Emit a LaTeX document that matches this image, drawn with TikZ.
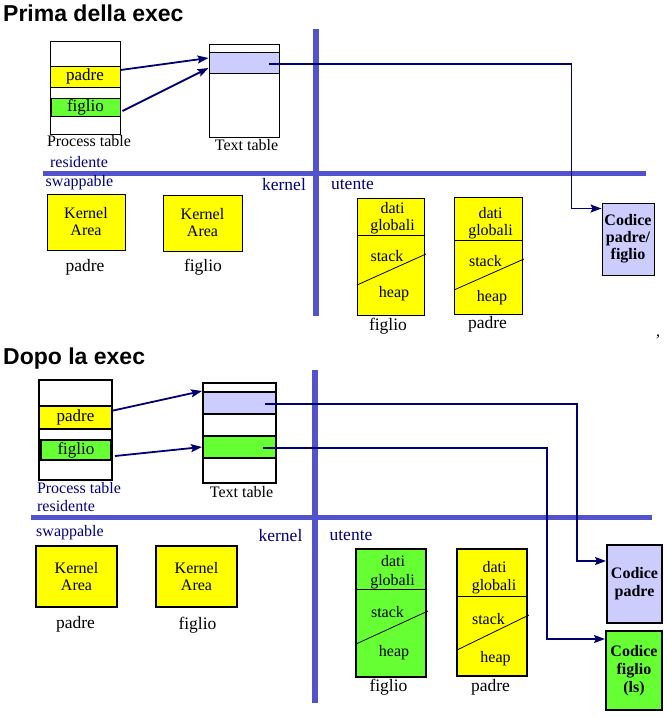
\documentclass[tikz,border=0pt]{standalone}
\usepackage{fontspec}
\setmainfont{Liberation Serif}
\newfontfamily\titlefont{Liberation Sans}
\usepackage{tikz}
\usetikzlibrary{arrows.meta, calc}
\definecolor{ProcYellow}{HTML}{FFFF00}
\definecolor{ProcGreen}{HTML}{66FF33}
\definecolor{TextLavender}{HTML}{CCCCFF}
\definecolor{LinkNavy}{HTML}{000070}
\definecolor{BarBlue}{HTML}{5252CC}
\definecolor{LabelNavy}{HTML}{000080}
\tikzset{
    % Box styles
    tablebox/.style={
        rectangle,
        draw=black,
        line width=1pt,
        inner sep=0pt,
        font=\fontsize{17}{19}\selectfont
    },
    kernelbox/.style={
        rectangle,
        draw=black,
        fill=ProcYellow,
        line width=1pt,
        inner sep=0pt,
        align=center,
        font=\fontsize{16}{17}\selectfont
    },
    membox/.style={
        rectangle,
        draw=black,
        line width=1pt,
        inner sep=0pt
    },
    codebox/.style={
        rectangle,
        draw=black,
        line width=1pt,
        inner sep=0pt,
        align=center,
        font=\bfseries\fontsize{16}{17}\selectfont
    },
    heavyframe/.style={
        line width=2pt
    },
    % Text styles
    smalltext/.style={
        inner sep=0pt,
        anchor=base,
        font=\fontsize{16}{18}\selectfont
    },
    bigtext/.style={
        inner sep=0pt,
        anchor=base,
        font=\fontsize{17.5}{19}\selectfont
    },
    navytext/.style={
        text=LabelNavy
    },
    titletext/.style={
        inner sep=0pt,
        anchor=base west,
        font=\titlefont\bfseries\fontsize{23}{26}\selectfont
    },
    % Line styles
    divider/.style={
        line width=0.8pt,
        black
    },
    link/.style={
        -{Stealth[length=11pt, width=8pt, inset=2pt]},
        line width=1.8pt,
        LinkNavy
    }
}

\begin{document}
\begin{tikzpicture}[x=1pt, y=-1pt]
    \useasboundingbox (0,0) rectangle (667,716);

    % ---------------- Prima della exec ----------------
    \node[titletext] (title1) at (3,21) {Prima della exec};

    % Kernel / user and resident / swappable bars
    \fill[BarBlue] (313,29) rectangle (319,316);
    \fill[BarBlue] (43,171) rectangle (646,176);

    % Process table
    \node[tablebox, minimum width=70pt, minimum height=93pt] (ptab1) at (85,87.5) {};
    \node[tablebox, fill=ProcYellow, minimum width=70pt, minimum height=21pt] (pA1) at (85,76.5) {padre};
    \node[tablebox, fill=ProcGreen, minimum width=69pt, minimum height=18pt] (pB1) at (85.5,107) {figlio};
    \node[smalltext] (ptlbl1) at (89,146.5) {Process table};
    \node[smalltext, navytext] (res1) at (79,167.5) {residente};

    % Text table
    \node[tablebox, minimum width=70pt, minimum height=93pt] (ttab1) at (244,90.5) {};
    \node[tablebox, fill=TextLavender, minimum width=70pt, minimum height=21pt] (tA1) at (244,62.5) {};
    \node[smalltext] (ttlbl1) at (246.5,150.5) {Text table};

    % Zone labels
    \node[smalltext, navytext] (swap1) at (79.5,186) {swappable};
    \node[bigtext, navytext] (kern1) at (284,190.5) {kernel};
    \node[bigtext, navytext] (ute1) at (352.5,189) {utente};

    % Kernel areas
    \node[kernelbox, minimum width=78pt, minimum height=56pt] (ka1p) at (86,222) {Kernel\\Area};
    \node[kernelbox, minimum width=79pt, minimum height=56pt] (ka1f) at (202.5,223) {Kernel\\Area};
    \node[bigtext] (ka1plbl) at (85,271) {padre};
    \node[bigtext] (ka1flbl) at (203,271) {figlio};

    % User areas
    \node[membox, fill=ProcYellow, minimum width=67pt, minimum height=117pt] (mem1f) at (390.5,256.5) {};
    \draw[divider] (357,235) -- (425,235);
    \draw[divider] (357,285) -- (426,254);
    \node[smalltext] (m1fd) at (392.5,213.3) {dati};
    \node[smalltext] (m1fg) at (392.5,230) {globali};
    \node[smalltext] (m1fs) at (387,261.7) {stack};
    \node[smalltext] (m1fh) at (394,297.7) {heap};
    \node[bigtext] (m1flbl) at (388,330) {figlio};

    \node[membox, fill=ProcYellow, minimum width=68pt, minimum height=117pt] (mem1p) at (488,255.5) {};
    \draw[divider] (454,240) -- (523,240);
    \draw[divider] (454,290) -- (524,259);
    \node[smalltext] (m1pd) at (490.5,218.3) {dati};
    \node[smalltext] (m1pg) at (490.5,235.7) {globali};
    \node[smalltext] (m1ps) at (485.5,266.7) {stack};
    \node[smalltext] (m1ph) at (492,301.7) {heap};
    \node[bigtext] (m1plbl) at (487.5,328) {padre};

    % Shared code
    \node[codebox, fill=TextLavender, minimum width=52pt, minimum height=72pt] (cod1) at (628,239) {Codice\\padre/\\figlio};

    % Pointers
    \draw[link] ([yshift=6.5pt]pA1.east) -- ([yshift=4.5pt]tA1.west);
    \draw[link] ([xshift=2pt, yshift=-4pt]pB1.east) -- ([yshift=-5.5pt]tA1.west);
    \coordinate (s1) at (269,64);
    \coordinate (e1) at ($(cod1.north west)+(0,6)$);
    \draw[link] (s1) -| ([xshift=-30pt]e1) -- (e1);

    \node[smalltext] (comma) at (658,336) {,};

    % ---------------- Dopo la exec ----------------
    \node[titletext] (title2) at (3,364) {Dopo la exec};

    % Kernel / user and resident / swappable bars
    \fill[BarBlue] (312,370) rectangle (318,703);
    \fill[BarBlue] (31,514.5) rectangle (652,519.5);

    % Process table
    \node[tablebox, heavyframe, minimum width=73pt, minimum height=100pt] (ptab2) at (75.5,430) {};
    \node[tablebox, heavyframe, fill=ProcYellow, minimum width=73pt, minimum height=23pt] (pA2) at (75.5,417.5) {padre};
    \node[tablebox, heavyframe, fill=ProcGreen, minimum width=70pt, minimum height=20pt] (pB2) at (76,450) {figlio};
    \node[smalltext, navytext] (ptlbl2) at (79,493.3) {Process table};
    \node[smalltext, navytext] (res2) at (66,511.7) {residente};

    % Text table
    \node[tablebox, heavyframe, minimum width=73pt, minimum height=100pt] (ttab2) at (239.5,433) {};
    \node[tablebox, heavyframe, fill=TextLavender, minimum width=73pt, minimum height=22pt] (tA2) at (239.5,403) {};
    \node[tablebox, heavyframe, fill=ProcGreen, minimum width=73pt, minimum height=22pt] (tB2) at (239.5,447) {};
    \node[smalltext] (ttlbl2) at (241.5,497.3) {Text table};

    % Zone labels
    \node[smalltext, navytext] (swap2) at (70,536.7) {swappable};
    \node[bigtext, navytext] (kern2) at (280.5,541.7) {kernel};
    \node[bigtext, navytext] (ute2) at (351,540) {utente};

    % Kernel areas
    \node[kernelbox, heavyframe, minimum width=81pt, minimum height=61pt] (ka2p) at (76.5,576.5) {Kernel\\Area};
    \node[kernelbox, heavyframe, minimum width=81pt, minimum height=61pt] (ka2f) at (196.5,576.5) {Kernel\\Area};
    \node[bigtext] (ka2plbl) at (75.5,628.3) {padre};
    \node[bigtext] (ka2flbl) at (197.5,629.3) {figlio};

    % User areas
    \node[membox, heavyframe, fill=ProcGreen, minimum width=70pt, minimum height=128pt] (mem2f) at (391,613) {};
    \draw[divider] (356,589) -- (426,589);
    \draw[divider] (356,644) -- (428,611);
    \node[smalltext] (m2fd) at (393,566.7) {dati};
    \node[smalltext] (m2fg) at (392.5,585) {globali};
    \node[smalltext] (m2fs) at (387.5,617.7) {stack};
    \node[smalltext] (m2fh) at (394,656) {heap};
    \node[bigtext] (m2flbl) at (388.5,691.7) {figlio};

    \node[membox, heavyframe, fill=ProcYellow, minimum width=70pt, minimum height=127pt] (mem2p) at (492,612.5) {};
    \draw[divider] (457,596) -- (527,596);
    \draw[divider] (457,650) -- (529,615);
    \node[smalltext] (m2pd) at (494.5,572.3) {dati};
    \node[smalltext] (m2pg) at (494,590.7) {globali};
    \node[smalltext] (m2ps) at (488.5,624) {stack};
    \node[smalltext] (m2ph) at (495.5,662.3) {heap};
    \node[bigtext] (m2plbl) at (490.5,691) {padre};

    % Separate code
    \node[codebox, heavyframe, fill=TextLavender, minimum width=55pt, minimum height=78pt, font=\bfseries\fontsize{16}{18}\selectfont] (cod2p) at (634.5,584) {Codice\\padre};
    \node[codebox, heavyframe, fill=ProcGreen, minimum width=56pt, minimum height=79pt, font=\bfseries\fontsize{16}{18}\selectfont] (cod2f) at (634,670.5) {Codice\\figlio\\(ls)};

    % Pointers
    \draw[link] ([xshift=-2pt, yshift=6.5pt]pA2.east) -- ([yshift=12pt]tA2.west);
    \draw[link] ([xshift=3pt, yshift=-6pt]pB2.east) -- (tB2.west);
    \coordinate (s2) at (265,404);
    \coordinate (e2) at ($(cod2p.north west)+(0,17)$);
    \draw[link] (s2) -| ([xshift=-29pt]e2) -- (e2);
    \coordinate (s3) at (263,448);
    \coordinate (e3) at ($(cod2f.north west)+(0,9)$);
    \draw[link] (s3) -| ([xshift=-58pt]e3) -- (e3);
\end{tikzpicture}
\end{document}
